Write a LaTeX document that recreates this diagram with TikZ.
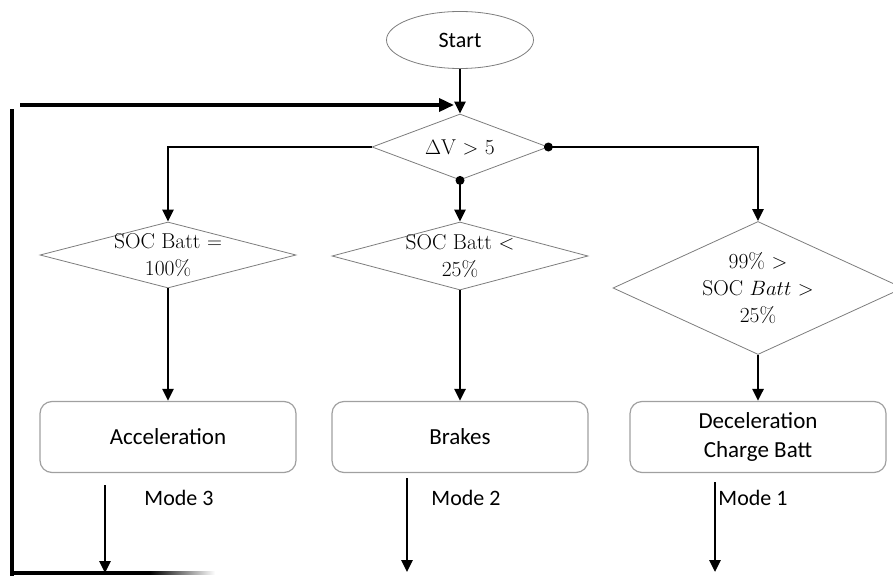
\documentclass[tikz,border=0pt]{standalone}
\usepackage{fontspec}
\setsansfont{Carlito}
\usetikzlibrary{positioning,arrows.meta,shapes.geometric}
\definecolor{dEdge}{RGB}{125,125,125}
\definecolor{dBox}{RGB}{160,160,160}
\tikzset{
  term/.style={ellipse, draw=dEdge, line width=0.8pt, minimum width=147pt,
               minimum height=57pt, font=\sffamily\fontsize{22}{26}\selectfont},
  decision/.style={diamond, draw=dEdge, line width=0.8pt, inner sep=0pt},
  dtext/.style={align=center, text=black, font=\fontsize{21.5}{27}\selectfont},
  proc/.style={rectangle, rounded corners=12pt, draw=dBox, line width=1.2pt,
               minimum width=256pt, minimum height=71pt, align=center,
               font=\sffamily\fontsize{23}{29}\selectfont},
  mode/.style={font=\sffamily\fontsize{22}{26}\selectfont},
  flow/.style={-{Triangle[length=12pt,width=11pt]}, line width=2.7pt},
  loopline/.style={line width=3.5pt},
}

\begin{document}
\begin{tikzpicture}[x=1pt, y=-1pt]
  \useasboundingbox (0,0) rectangle (893,575);
  % nodes
  \node[term] (start) at (460,40) {Start};
  \node[decision, minimum width=176pt, minimum height=66pt,
        label={[dtext]center:{$\Delta$V $>$ 5}}] (dv) at (460,147) {};
  \node[decision, minimum width=256pt, minimum height=66pt,
        label={[dtext]center:{SOC Batt $=$\\100\%}}] (full) at (168,255) {};
  \node[decision, minimum width=256pt, minimum height=68pt,
        label={[dtext]center:{SOC Batt $<$\\25\%}}] (low) at (460,256) {};
  \node[decision, minimum width=290pt, minimum height=133pt,
        label={[dtext]center:{99\% $>$\\SOC $Batt$ $>$\\25\%}}] (mid) at (758,288) {};
  \node[proc] (acc) at (168,437) {Acceleration};
  \node[proc] (brk) at (460,437) {Brakes};
  \node[proc] (dec) at (758,437) {Deceleration\\Charge Batt};
  \node[mode] (m3) at (179,498) {Mode 3};
  \node[mode] (m2) at (466,498) {Mode 2};
  \node[mode] (m1) at (753,498) {Mode 1};
  % connectors
  \draw[flow] (start) -- (dv);
  \draw[flow] (dv.west) -| (full);
  \draw[flow] (dv.south) -- (low);
  \draw[flow] (dv.east) -| (mid);
  \fill (dv.east) circle (4.5pt);
  \fill (dv.south) circle (4.5pt);
  \draw[flow] (full) -- (acc);
  \draw[flow] (low) -- (brk);
  \draw[flow] (mid) -- (dec);
  % outputs
  \coordinate (o3) at (105,485); \coordinate (e3) at (105,573);
  \coordinate (o2) at (407,478); \coordinate (e2) at (407,572);
  \coordinate (o1) at (715,482); \coordinate (e1) at (715,572);
  \draw[flow] (o3) -- (e3);
  \draw[flow] (o2) -- (e2);
  \draw[flow] (o1) -- (e1);
  % feedback
  \coordinate (fbl) at (12,576);
  \coordinate (fbt) at (12,109);
  \coordinate (fbs) at (20,105);
  \coordinate (fbe) at (454,105);
  \coordinate (fbr) at (150,573);
  \draw[loopline] (fbl) -- (fbt);
  \draw[loopline, -{Triangle[length=15pt,width=13pt]}] (fbs) -- (fbe);
  \draw[loopline] (10.25,573) -- (fbr);
  \shade[left color=black, right color=white] (150,571.25) rectangle (215,574.75);
\end{tikzpicture}
\end{document}
